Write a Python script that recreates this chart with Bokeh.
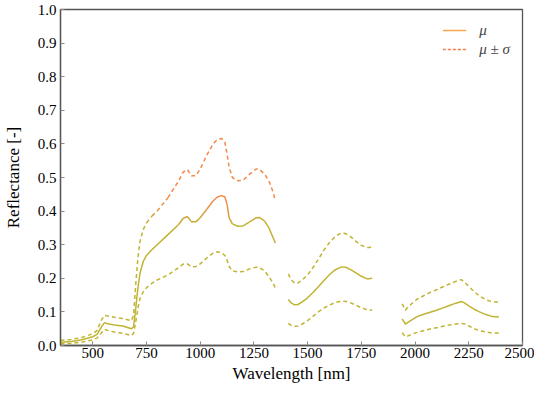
from bokeh.plotting import figure
from bokeh.models import Range1d, FixedTicker, NumeralTickFormatter, Legend, LegendItem
from bokeh.embed import file_html
from bokeh.resources import INLINE

# ---------------- data ----------------
wl_1 = [350, 400, 450, 500, 520, 540, 555, 570, 600, 640, 680, 690, 700, 710, 720, 735,
        750, 775, 800, 850, 900, 920, 940, 960, 980, 1000, 1030, 1060, 1080, 1100, 1115,
        1125, 1135, 1150, 1175, 1200, 1230, 1260, 1275, 1300, 1320, 1340, 1350]
mu_1 = [0.010, 0.012, 0.017, 0.026, 0.033, 0.055, 0.068, 0.065, 0.061, 0.058, 0.050, 0.055,
        0.110, 0.170, 0.215, 0.250, 0.268, 0.285, 0.300, 0.330, 0.360, 0.378, 0.384, 0.368,
        0.368, 0.380, 0.405, 0.430, 0.442, 0.446, 0.442, 0.420, 0.380, 0.362, 0.355, 0.356,
        0.368, 0.380, 0.381, 0.370, 0.350, 0.320, 0.305]
up_1 = [0.015, 0.018, 0.024, 0.035, 0.045, 0.075, 0.090, 0.088, 0.084, 0.080, 0.074, 0.090,
        0.180, 0.260, 0.310, 0.345, 0.365, 0.385, 0.400, 0.440, 0.490, 0.515, 0.524, 0.505,
        0.505, 0.525, 0.565, 0.600, 0.613, 0.616, 0.605, 0.570, 0.530, 0.500, 0.490, 0.492,
        0.510, 0.525, 0.525, 0.510, 0.490, 0.455, 0.430]
lo_1 = [0.005, 0.006, 0.010, 0.017, 0.022, 0.037, 0.048, 0.045, 0.040, 0.036, 0.030, 0.036,
        0.070, 0.110, 0.140, 0.160, 0.172, 0.185, 0.195, 0.210, 0.232, 0.242, 0.243, 0.234,
        0.235, 0.243, 0.260, 0.275, 0.279, 0.276, 0.268, 0.255, 0.235, 0.222, 0.219, 0.220,
        0.228, 0.233, 0.232, 0.222, 0.205, 0.185, 0.170]

wl_2 = [1410, 1425, 1440, 1455, 1475, 1500, 1525, 1550, 1575, 1600, 1625, 1650, 1665, 1680,
        1700, 1725, 1750, 1775, 1790, 1800]
mu_2 = [0.137, 0.126, 0.121, 0.122, 0.130, 0.142, 0.158, 0.175, 0.193, 0.210, 0.224, 0.232,
        0.234, 0.232, 0.226, 0.216, 0.206, 0.199, 0.199, 0.201]
up_2 = [0.213, 0.195, 0.185, 0.186, 0.195, 0.210, 0.232, 0.257, 0.283, 0.305, 0.322, 0.333,
        0.335, 0.332, 0.324, 0.310, 0.298, 0.292, 0.292, 0.294]
lo_2 = [0.066, 0.059, 0.057, 0.058, 0.064, 0.074, 0.087, 0.100, 0.111, 0.120, 0.127, 0.131,
        0.132, 0.131, 0.127, 0.120, 0.112, 0.107, 0.106, 0.106]

wl_3 = [1940, 1955, 1965, 1985, 2010, 2040, 2070, 2100, 2130, 2160, 2190, 2215, 2230, 2250,
        2275, 2300, 2330, 2360, 2390]
mu_3 = [0.079, 0.064, 0.068, 0.076, 0.086, 0.093, 0.099, 0.105, 0.112, 0.119, 0.126, 0.131,
        0.127, 0.118, 0.108, 0.100, 0.092, 0.086, 0.085]
up_3 = [0.124, 0.105, 0.113, 0.125, 0.138, 0.148, 0.158, 0.166, 0.175, 0.183, 0.191, 0.196,
        0.189, 0.176, 0.160, 0.147, 0.136, 0.130, 0.129]
lo_3 = [0.038, 0.026, 0.028, 0.034, 0.039, 0.044, 0.049, 0.053, 0.057, 0.061, 0.064, 0.066,
        0.064, 0.058, 0.050, 0.044, 0.040, 0.037, 0.037]

x_ticks = [500, 750, 1000, 1250, 1500, 1750, 2000, 2250, 2500]
y_ticks = [0.0, 0.1, 0.2, 0.3, 0.4, 0.5, 0.6, 0.7, 0.8, 0.9, 1.0]
legend_labels = ["μ", "μ ± σ"]

# ---------------- style ----------------
LOW = (192, 180, 50)
HIGH = (245, 137, 74)
NLEV = 6
FONT = "Liberation Serif"


def level_color(k):
    t = k / (NLEV - 1)
    r, g, b = (int(round(LOW[i] + (HIGH[i] - LOW[i]) * t)) for i in range(3))
    return "#%02x%02x%02x" % (r, g, b)


def level_of(v):
    t = (v - 0.36) / 0.07
    t = min(max(t, 0.0), 1.0)
    return int(round(t * (NLEV - 1)))


p = figure(width=534, height=385, output_backend="svg", toolbar_location=None,
           x_range=Range1d(350, 2500), y_range=Range1d(0, 1),
           min_border_left=52, min_border_right=12, min_border_top=9, min_border_bottom=36,
           background_fill_color="white", border_fill_color="white")
p.grid.visible = False
p.outline_line_color = "#555555"
p.outline_line_width = 1.3


def draw(xs, ys, dash):
    # split into runs of equal colour level (colour depends on the value)
    runs = []
    cur_x, cur_y = [xs[0]], [ys[0]]
    cur_lev = level_of((ys[0] + ys[1]) / 2)
    for i in range(1, len(xs)):
        lev = level_of((ys[i - 1] + ys[i]) / 2)
        if lev != cur_lev:
            runs.append((cur_x, cur_y, cur_lev))
            cur_x, cur_y = [xs[i - 1]], [ys[i - 1]]
            cur_lev = lev
        cur_x.append(xs[i])
        cur_y.append(ys[i])
    runs.append((cur_x, cur_y, cur_lev))
    for rx, ry, lev in runs:
        p.line(rx, ry, line_color=level_color(lev), line_width=1.5,
               line_dash=dash, line_join="round")


for wl, mu, up, lo in [(wl_1, mu_1, up_1, lo_1), (wl_2, mu_2, up_2, lo_2),
                       (wl_3, mu_3, up_3, lo_3)]:
    draw(wl, up, "4 3")
    draw(wl, lo, "4 3")
    draw(wl, mu, "solid")

# legend proxies (drawn off the visible range)
r_mu = p.line([0, 1], [-5, -5], line_color="#f8a84c", line_width=1.5)
r_sd = p.line([0, 1], [-5, -5], line_color="#f57a4a", line_width=1.5, line_dash="3 2")
legend = Legend(items=[LegendItem(label=legend_labels[0], renderers=[r_mu]),
                       LegendItem(label=legend_labels[1], renderers=[r_sd])],
                location="top_right", border_line_color=None, background_fill_alpha=0,
                label_text_font=FONT, label_text_font_style="italic",
                label_text_font_size="15px", glyph_width=24, glyph_height=18,
                label_height=18, label_standoff=13, spacing=1,
                margin=12, padding=2)
p.add_layout(legend)

# axes
for ax in [p.xaxis[0], p.yaxis[0]]:
    ax.axis_line_color = "#555555"
    ax.axis_line_width = 1.3
    ax.major_tick_in = 4
    ax.major_tick_out = 0
    ax.minor_tick_line_color = None
    ax.major_tick_line_color = "#888888"
    ax.major_label_text_font = FONT
    ax.major_label_text_font_size = "15px"
    ax.major_label_text_color = "black"
    ax.axis_label_text_font = FONT
    ax.axis_label_text_font_size = "17px"
    ax.axis_label_text_font_style = "normal"
    ax.axis_label_text_color = "black"

p.xaxis.ticker = FixedTicker(ticks=x_ticks)
p.yaxis.ticker = FixedTicker(ticks=y_ticks)
p.yaxis.formatter = NumeralTickFormatter(format="0.0")
p.xaxis.axis_label = "Wavelength [nm]"
p.yaxis.axis_label = "Reflectance [-]"
p.xaxis.major_label_standoff = 2
p.yaxis.major_label_standoff = 4
p.xaxis.axis_label_standoff = 3
p.yaxis.axis_label_standoff = 12

open("out.html", "w").write(file_html(p, INLINE))
